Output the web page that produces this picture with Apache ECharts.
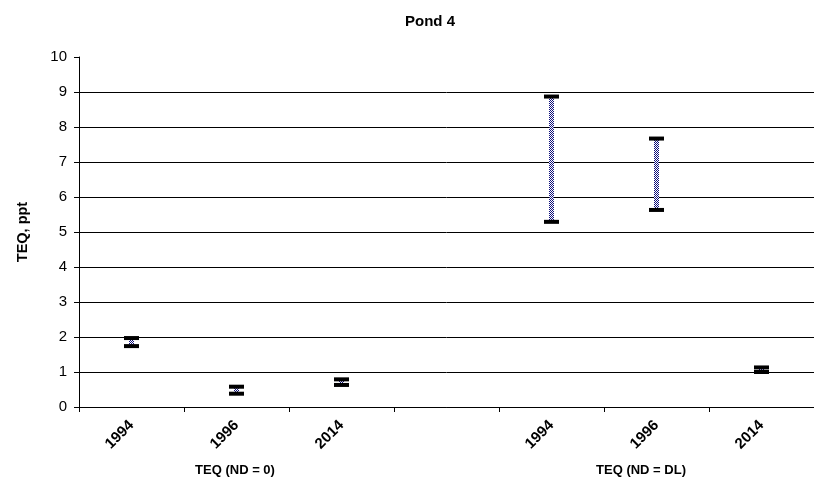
<!DOCTYPE html>
<html>
<head>
<meta charset="utf-8">
<title>Pond 4</title>
<script src="https://cdn.jsdelivr.net/npm/echarts@6/dist/echarts.min.js"></script>
<style>
  html, body { margin: 0; padding: 0; background: #fff; }
  #chart { width: 814px; height: 484px; }
</style>
</head>
<body>
<div id="chart"></div>
<script>
// Category slots along the x axis: two groups of three years, with an empty gap slot between them
const years = ['1994', '1996', '2014', '', '1994', '1996', '2014'];
const groupLabels = ['TEQ (ND = 0)', 'TEQ (ND = DL)'];

// TEQ ranges (ppt), non-detects set to zero
const lowND0 = [1.74, 0.38, 0.63];
const highND0 = [1.97, 0.58, 0.79];

// TEQ ranges (ppt), non-detects set to the detection limit
const lowNDDL = [5.29, 5.63, 1.00];
const highNDDL = [8.87, 7.67, 1.13];

const yTicks = [0, 1, 2, 3, 4, 5, 6, 7, 8, 9, 10];

// Slot index of each group's first year
const groupStart = [0, 4];

const rangeData = [];
lowND0.forEach((v, i) => rangeData.push([groupStart[0] + i, v, highND0[i]]));
lowNDDL.forEach((v, i) => rangeData.push([groupStart[1] + i, v, highNDDL[i]]));

// Checkered navy/white fill for the range bars
const patternCanvas = document.createElement('canvas');
patternCanvas.width = 2;
patternCanvas.height = 2;
const pctx = patternCanvas.getContext('2d');
pctx.fillStyle = '#ffffff';
pctx.fillRect(0, 0, 2, 2);
pctx.fillStyle = '#10107a';
pctx.fillRect(0, 0, 1, 1);
pctx.fillRect(1, 1, 1, 1);

const chart = echarts.init(document.getElementById('chart'), null, { renderer: 'canvas' });

const fontFamily = 'Liberation Sans, Arial, sans-serif';

function renderRange(params, api) {
  const x = api.value(0);
  const lo = api.coord([x, api.value(1)]);
  const hi = api.coord([x, api.value(2)]);
  const capW = 15;
  const capH = 4;
  const barW = 5;
  return {
    type: 'group',
    children: [
      {
        type: 'rect',
        shape: { x: lo[0] - barW / 2, y: hi[1], width: barW, height: lo[1] - hi[1] },
        style: { fill: { image: patternCanvas, repeat: 'repeat' } }
      },
      {
        type: 'rect',
        shape: { x: hi[0] - capW / 2, y: hi[1] - capH / 2, width: capW, height: capH },
        style: { fill: '#000' }
      },
      {
        type: 'rect',
        shape: { x: lo[0] - capW / 2, y: lo[1] - capH / 2, width: capW, height: capH },
        style: { fill: '#000' }
      }
    ]
  };
}

chart.setOption({
  animation: false,
  backgroundColor: '#fff',
  title: {
    text: 'Pond 4',
    left: 400,
    top: 9,
    textStyle: { fontFamily, fontSize: 15, fontWeight: 'bold', color: '#000' }
  },
  grid: { left: 79, top: 57, width: 738.5, height: 350, containLabel: false },
  xAxis: {
    type: 'category',
    data: years,
    boundaryGap: true,
    axisLine: { show: true, lineStyle: { color: '#000', width: 1 } },
    axisTick: { show: true, interval: 0, length: 5, lineStyle: { color: '#000' } },
    axisLabel: {
      interval: 0,
      rotate: 45,
      margin: 16,
      fontFamily,
      fontSize: 15,
      fontWeight: 'bold',
      color: '#000'
    },
    splitLine: { show: false }
  },
  yAxis: {
    type: 'value',
    min: yTicks[0],
    max: yTicks[yTicks.length - 1],
    interval: 1,
    name: 'TEQ, ppt',
    nameLocation: 'middle',
    nameGap: 49,
    nameTextStyle: { fontFamily, fontSize: 14.5, fontWeight: 'bold', color: '#000' },
    axisLine: { show: true, lineStyle: { color: '#000', width: 1 } },
    axisTick: { show: true, length: 5, lineStyle: { color: '#000' } },
    axisLabel: { fontFamily, fontSize: 15, color: '#000', margin: 12 },
    splitLine: { show: true, showMaxLine: false, lineStyle: { color: '#000', width: 1 } }
  },
  graphic: [
    {
      type: 'text',
      x: 235,
      y: 470,
      style: {
        text: groupLabels[0], font: 'bold 13px ' + fontFamily, fill: '#000',
        textAlign: 'center', textVerticalAlign: 'middle'
      }
    },
    {
      type: 'text',
      x: 641,
      y: 470,
      style: {
        text: groupLabels[1], font: 'bold 13px ' + fontFamily, fill: '#000',
        textAlign: 'center', textVerticalAlign: 'middle'
      }
    }
  ],
  series: [
    {
      type: 'custom',
      renderItem: renderRange,
      encode: { x: 0, y: [1, 2] },
      data: rangeData,
      clip: false,
      z: 5
    }
  ]
});
</script>
</body>
</html>
